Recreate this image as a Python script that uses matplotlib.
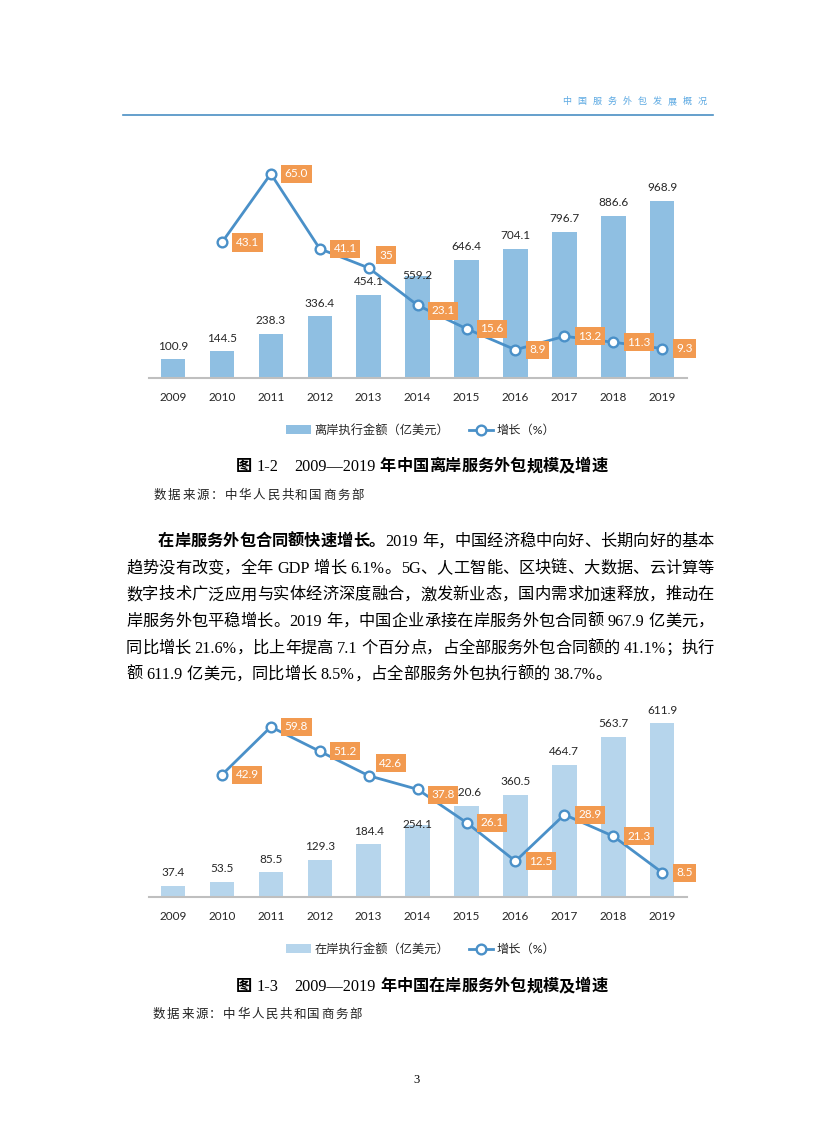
import re
import numpy as np
import matplotlib
matplotlib.use('Agg')
import matplotlib.pyplot as plt
from matplotlib.lines import Line2D
from matplotlib.patches import Patch

W, H, DPI = 816, 1145, 100

# data
years = ['2009', '2010', '2011', '2012', '2013', '2014',
         '2015', '2016', '2017', '2018', '2019']
offshore_amount = [100.9, 144.5, 238.3, 336.4, 454.1, 559.2, 646.4, 704.1, 796.7, 886.6, 968.9]
offshore_growth = [43.1, 65.0, 41.1, 35, 23.1, 15.6, 8.9, 13.2, 11.3, 9.3]
offshore_growth_text = ['43.1', '65.0', '41.1', '35', '23.1', '15.6', '8.9', '13.2', '11.3', '9.3']
onshore_amount = [37.4, 53.5, 85.5, 129.3, 184.4, 254.1, 320.6, 360.5, 464.7, 563.7, 611.9]
onshore_growth = [42.9, 59.8, 51.2, 42.6, 37.8, 26.1, 12.5, 28.9, 21.3, 8.5]
onshore_growth_text = ['42.9', '59.8', '51.2', '42.6', '37.8', '26.1', '12.5', '28.9', '21.3', '8.5']

header_text = '中国服务外包发展概况'
body_lines = [
    [('在岸服务外包合同额快速增长。', True), ('2019 年，中国经济稳中向好、长期向好的基本', False)],
    [('趋势没有改变，全年 GDP 增长 6.1%。5G、人工智能、区块链、大数据、云计算等', False)],
    [('数字技术广泛应用与实体经济深度融合，激发新业态，国内需求加速释放，推动在', False)],
    [('岸服务外包平稳增长。2019 年，中国企业承接在岸服务外包合同额 967.9 亿美元，', False)],
    [('同比增长 21.6%，比上年提高 7.1 个百分点，占全部服务外包合同额的 41.1%；执行', False)],
    [('额 611.9 亿美元，同比增长 8.5%，占全部服务外包执行额的 38.7%。', False)],
]
source_text = '数据来源：中华人民共和国商务部'

# label placement (points), hand-placed like in the original
bar_label_lift = [9.5, 9.5, 9.5, 9.5, 9.5, 0, 9.5, 9.5, 9.5, 9.5, 9.5]
box_offsets = [(10, 0), (10, 0), (10, 0), (7.5, 9), (10, -4),
               (10, 0), (10, 0), (10, 0), (10, 0), (10, 0)]

LINE = '#4A90C8'
ORANGE = '#F29A50'
TEXT = '#262626'

plt.rcParams['font.family'] = ['Lato', 'Noto Sans CJK SC', 'DejaVu Sans']


def fx(px):
    return px / W


def fy(py):
    return 1 - py / H


def draw_chart(fig, box, amount, growth, growth_text, amount_top, growth_top,
               bar_color, legend_label, legend_y):
    left, top, right, bottom = box
    ax = fig.add_axes([fx(left), fy(bottom), (right - left) / W, (bottom - top) / H])
    x = np.arange(len(years))
    ax.bar(x, amount, width=0.5, color=bar_color, zorder=2)
    for i, v in enumerate(amount):
        ax.annotate(f'{v:.1f}', (x[i], v), xytext=(0, bar_label_lift[i]),
                    textcoords='offset points', ha='center', va='center',
                    fontsize=8.5, color=TEXT, zorder=3)
    ax.set_xlim(-0.5, len(years) - 0.5)
    ax.set_ylim(0, amount_top)
    ax.set_xticks(x)
    ax.set_xticklabels(years, fontsize=8.5, color=TEXT)
    ax.tick_params(axis='x', length=0, pad=10)
    ax.set_yticks([])
    for s in ['top', 'left', 'right']:
        ax.spines[s].set_visible(False)
    ax.spines['bottom'].set_color('#BFBFBF')
    ax.spines['bottom'].set_linewidth(1.5)
    ax.patch.set_alpha(0)

    ax2 = ax.twinx()
    gx = x[1:]
    ax2.plot(gx, growth, color=LINE, lw=2.0, marker='o', ms=7,
             mfc='white', mec=LINE, mew=1.7, zorder=3)
    for i, (xx, v, t) in enumerate(zip(gx, growth, growth_text)):
        dx, dy = box_offsets[i]
        ax2.annotate(t, (xx, v), xytext=(dx, dy), textcoords='offset points',
                     ha='left', va='center', fontsize=8.5, color='white',
                     bbox=dict(boxstyle='square,pad=0.3', fc=ORANGE, ec='none'),
                     zorder=5)
    ax2.set_ylim(0, growth_top)
    ax2.set_yticks([])
    for s in ax2.spines.values():
        s.set_visible(False)

    handles = [Patch(facecolor=bar_color, edgecolor='none'),
               Line2D([], [], color=LINE, lw=2.0, marker='o', ms=7,
                      mfc='white', mec=LINE, mew=1.7)]
    fig.legend(handles, [legend_label, '增长（%）'], loc='center',
               bbox_to_anchor=(fx(421), fy(legend_y)), ncol=2, frameon=False,
               fontsize=8.8, handlelength=2.0, handletextpad=0.3,
               columnspacing=1.6, labelcolor=TEXT)


def draw_tokens(fig, renderer, spans, x0, yc, size, x1=None, color='black'):
    em = size * DPI / 72
    base = yc + 0.38 * em
    items = []
    for text, bold in spans:
        for tok in re.findall(r'[A-Za-z0-9.%\-—]+|[ 　]|.', text):
            items.append((tok, bold))
    arts, widths = [], []
    for tok, bold in items:
        if tok == ' ':
            arts.append(None)
            widths.append(0.25 * em)
            continue
        if tok == '　':
            arts.append(None)
            widths.append(em)
            continue
        latin = tok.isascii() or '—' in tok
        if latin:
            fam = ['Liberation Serif', 'Noto Sans CJK SC']
            wt = 'normal'
        else:
            fam = ['Noto Sans CJK SC']
            wt = 'bold' if bold else 'normal'
        t = fig.text(0, fy(base), tok, fontsize=size, family=fam, weight=wt,
                     ha='left', va='baseline', color=color)
        arts.append(t)
        widths.append(t.get_window_extent(renderer).width)
    gap = 0
    if x1 is not None and len(items) > 1:
        gap = (x1 - x0 - sum(widths)) / (len(items) - 1)
    pos = x0
    for a, w in zip(arts, widths):
        if a is not None:
            a.set_x(fx(pos))
        pos += w + gap


fig = plt.figure(figsize=(W / DPI, H / DPI), dpi=DPI)
renderer = fig.canvas.get_renderer()

# page header
draw_tokens(fig, renderer, [(header_text, False)], 562, 100.5, 6.5, x1=707, color='#5AA8E2')
fig.add_artist(Line2D([fx(123), fx(713)], [fy(115), fy(115)], color='#4A8FC4',
                      lw=1.2, transform=fig.transFigure))

# chart 1-2
draw_chart(fig, (148.5, 150, 686.7, 377.7), offshore_amount, offshore_growth,
           offshore_growth_text, 227.7 / 0.1827, 227.7 / 3.137,
           '#8FBFE2', '离岸执行金额（亿美元）', 430)
draw_tokens(fig, renderer, [('图', True), (' 1-2　2009—2019 ', False),
                            ('年中国离岸服务外包规模及增速', True)], 236, 465, 11.7)
draw_tokens(fig, renderer, [(source_text, False)], 154, 494, 9, x1=364, color='#222222')

# body paragraph
line_y = [540, 566.6, 593.2, 619.8, 646.4, 673]
for i, spans in enumerate(body_lines):
    x0 = 158 if i == 0 else 126
    x1 = None if i == len(body_lines) - 1 else 714
    draw_tokens(fig, renderer, spans, x0, line_y[i], 11.7, x1=x1)

# chart 1-3
draw_chart(fig, (148.5, 690, 686.7, 896.7), onshore_amount, onshore_growth,
           onshore_growth_text, 206.7 / 0.2833, 206.7 / 2.84,
           '#B6D5EC', '在岸执行金额（亿美元）', 949)
draw_tokens(fig, renderer, [('图', True), (' 1-3　2009—2019 ', False),
                            ('年中国在岸服务外包规模及增速', True)], 236, 985, 11.7)
draw_tokens(fig, renderer, [(source_text, False)], 153, 1013, 9, x1=362, color='#222222')

fig.text(fx(416), fy(1080), '3', fontsize=9, family='Liberation Serif',
         ha='center', va='center')

fig.savefig('out.png', dpi=DPI)
